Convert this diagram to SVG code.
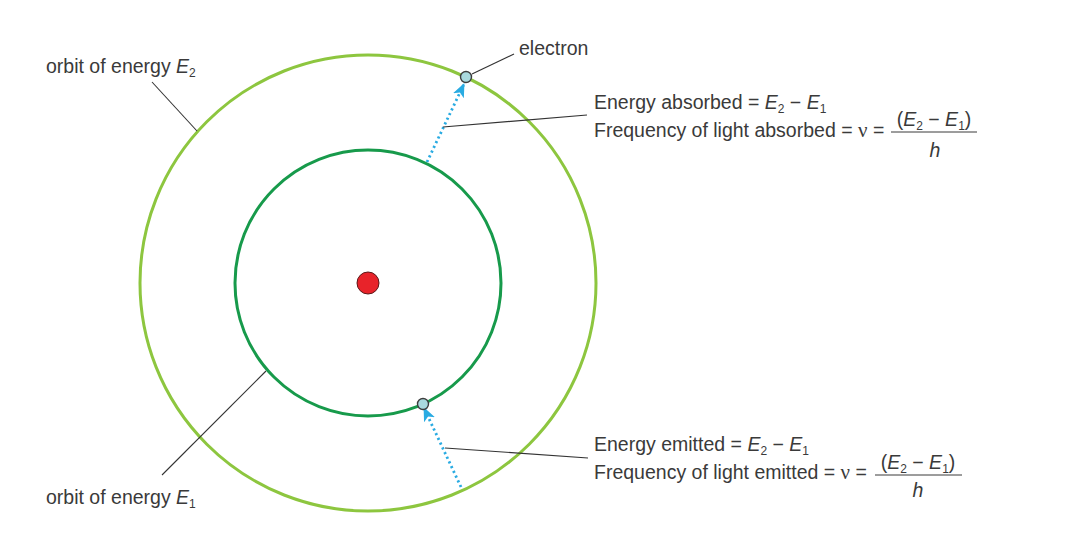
<svg xmlns="http://www.w3.org/2000/svg" width="1080" height="546" viewBox="0 0 1080 546">
<style>
.t{font-family:"Liberation Sans",Arial,sans-serif;font-size:19.5px;fill:#3a3a3a}
.i{font-style:italic}
.sub{font-size:12px}
.nu{font-family:"Liberation Serif","Times New Roman",serif;font-size:21px}
.lead{stroke:#333;stroke-width:1.1;fill:none}
.arrow{stroke:#29abe2;stroke-width:2.8;stroke-dasharray:2.2 3;fill:none}
.bar{stroke:#3a3a3a;stroke-width:1}
.el{fill:#a9d9de;stroke:#3d3d3d;stroke-width:1.4}
</style>
<defs>
<marker id="ah" viewBox="0 0 14 12" refX="13" refY="6" markerWidth="14" markerHeight="12" markerUnits="userSpaceOnUse" orient="auto">
<path d="M0,0 L14,6 L0,12 L3.5,6 Z" fill="#29abe2"/>
</marker>
</defs>
<rect width="1080" height="546" fill="#ffffff"/>
<g id="orbit-outer"><circle cx="368" cy="283" r="228" fill="none" stroke="#8dc63f" stroke-width="3"/></g>
<g id="orbit-inner"><circle cx="368" cy="283" r="133" fill="none" stroke="#179a4b" stroke-width="3"/></g>
<g id="nucleus"><circle cx="368" cy="283" r="11" fill="#e8232a" stroke="#5a1a1a" stroke-width="1"/></g>
<g id="connectors">
<line class="arrow" x1="427" y1="162" x2="464" y2="84" marker-end="url(#ah)"/>
<line class="arrow" x1="461" y1="487" x2="424" y2="408" marker-end="url(#ah)"/>
<line class="lead" x1="152" y1="82" x2="197" y2="131"/>
<line class="lead" x1="162" y1="475" x2="266" y2="371"/>
<line class="lead" x1="472" y1="74" x2="514" y2="54"/>
<line class="lead" x1="443" y1="127" x2="587" y2="115"/>
<line class="lead" x1="445" y1="448" x2="588" y2="458"/>
</g>
<g id="electron-outer"><circle class="el" cx="466" cy="77" r="5.5"/></g>
<g id="electron-inner"><circle class="el" cx="423" cy="404" r="5.5"/></g>
<g id="label-orbit-e2"><text class="t" x="46" y="73">orbit of energy <tspan class="i">E</tspan><tspan class="sub" dy="4">2</tspan></text></g>
<g id="label-orbit-e1"><text class="t" x="46" y="504">orbit of energy <tspan class="i">E</tspan><tspan class="sub" dy="4">1</tspan></text></g>
<g id="label-electron"><text class="t" x="519" y="55">electron</text></g>
<g id="label-absorbed">
<text class="t" x="594" y="109">Energy absorbed = <tspan class="i">E</tspan><tspan class="sub" dy="4">2</tspan><tspan dy="-4"> − </tspan><tspan class="i">E</tspan><tspan class="sub" dy="4">1</tspan></text>
<text class="t" x="594" y="137">Frequency of light absorbed = <tspan class="nu">ν</tspan> =</text>
<line class="bar" x1="891" y1="132" x2="977" y2="132"/>
<text class="t" x="934" y="126" text-anchor="middle">(<tspan class="i">E</tspan><tspan class="sub" dy="4">2</tspan><tspan dy="-4"> − </tspan><tspan class="i">E</tspan><tspan class="sub" dy="4">1</tspan><tspan dy="-4">)</tspan></text>
<text class="t i" x="935" y="157" text-anchor="middle">h</text>
</g>
<g id="label-emitted">
<text class="t" x="594" y="451">Energy emitted = <tspan class="i">E</tspan><tspan class="sub" dy="4">2</tspan><tspan dy="-4"> − </tspan><tspan class="i">E</tspan><tspan class="sub" dy="4">1</tspan></text>
<text class="t" x="594" y="479">Frequency of light emitted = <tspan class="nu">ν</tspan> =</text>
<line class="bar" x1="875" y1="475" x2="962" y2="475"/>
<text class="t" x="918" y="469" text-anchor="middle">(<tspan class="i">E</tspan><tspan class="sub" dy="4">2</tspan><tspan dy="-4"> − </tspan><tspan class="i">E</tspan><tspan class="sub" dy="4">1</tspan><tspan dy="-4">)</tspan></text>
<text class="t i" x="918" y="497" text-anchor="middle">h</text>
</g>
</svg>
